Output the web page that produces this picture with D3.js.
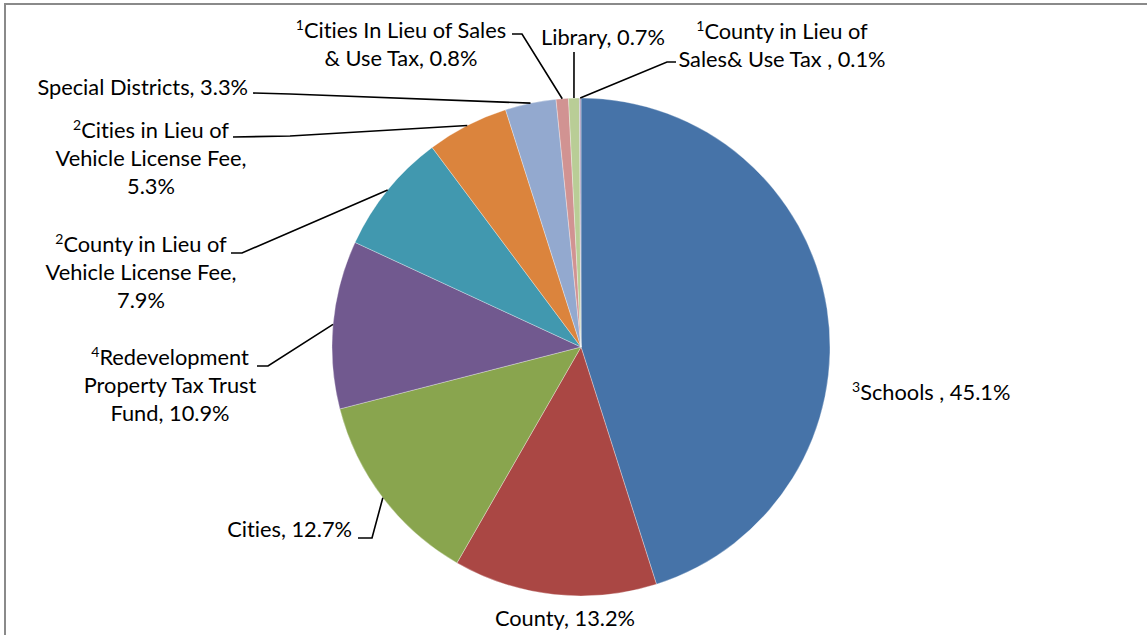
<!DOCTYPE html>
<html>
<head>
<meta charset="utf-8">
<script src="https://cdn.jsdelivr.net/npm/d3@7"></script>
<style>
  html, body { margin: 0; padding: 0; background: #fff; }
  svg { display: block; }
  text { font-family: Lato, "Open Sans", sans-serif; fill: #000; font-variant-ligatures: none; }
</style>
</head>
<body>
<script>
// property tax allocation shares, clockwise from 12 o'clock
const categories = [
  "Schools", "County", "Cities", "Redevelopment Property Tax Trust Fund",
  "County in Lieu of Vehicle License Fee", "Cities in Lieu of Vehicle License Fee",
  "Special Districts", "Cities In Lieu of Sales & Use Tax", "Library",
  "County in Lieu of Sales& Use Tax"
];
const shares = [45.1, 13.2, 12.7, 10.9, 7.9, 5.3, 3.3, 0.8, 0.7, 0.1];
const footnotes = ["3", "", "", "4", "2", "2", "", "1", "", "1"];
const colors = ["#4673A8", "#AA4744", "#89A54E", "#71598F", "#4198AF",
                "#DB843D", "#93A9CF", "#D19392", "#B9CD96", "#A99BBD"];

// how each label is wrapped; %v is replaced by the value
const labelLines = [
  ["Schools , %v"],
  ["County, %v"],
  ["Cities, %v"],
  ["Redevelopment", "Property Tax Trust", "Fund, %v"],
  ["County in Lieu of", "Vehicle License Fee,", "%v"],
  ["Cities in Lieu of", "Vehicle License Fee,", "%v"],
  ["Special Districts, %v"],
  ["Cities In Lieu of Sales", "& Use Tax, %v"],
  ["Library, %v"],
  ["County in Lieu of", "Sales& Use Tax , %v"]
];

// label placement (like Excel's hand dragged labels) and leader stubs
const labelPos = [
  { x: 852, y: 393, anchor: "start" },
  { x: 565, y: 619, anchor: "middle" },
  { x: 352, y: 530, anchor: "end", stub: [[358, 538], [372, 538]] },
  { x: 170, y: 358, anchor: "middle", stub: [[257, 366], [268, 366]] },
  { x: 141, y: 245, anchor: "middle", stub: [[231, 253], [242, 253]] },
  { x: 151, y: 131, anchor: "middle", stub: [[233, 137], [290, 136]] },
  { x: 248, y: 88,  anchor: "end", stub: [[253, 93], [290, 94]] },
  { x: 401, y: 31,  anchor: "middle", stub: [[512, 34], [522, 34]] },
  { x: 603, y: 38,  anchor: "middle", stub: [[574, 52], [574, 53]] },
  { x: 782, y: 32,  anchor: "middle", stub: [[676, 62], [667, 62]] }
];

const width = 1147, height = 635;
const cx = 581, cy = 347, radius = 249;
const lineGap = 28;

const svg = d3.select("body").append("svg")
  .attr("width", width)
  .attr("height", height);

// chart frame (only top and left edges are inside the picture)
svg.append("rect")
  .attr("x", 5).attr("y", 4)
  .attr("width", width + 20).attr("height", height + 20)
  .attr("fill", "none")
  .attr("stroke", "#8a8a8a")
  .attr("stroke-width", 2);

const data = categories.map((c, i) => ({
  name: c, value: shares[i], note: footnotes[i], color: colors[i],
  lines: labelLines[i], pos: labelPos[i]
}));

const pie = d3.pie().value(d => d.value).sort(null);
const arcs = pie(data);

const arc = d3.arc().innerRadius(0).outerRadius(radius);
const edgeArc = d3.arc().innerRadius(radius).outerRadius(radius);

const g = svg.append("g").attr("transform", `translate(${cx},${cy})`);

g.selectAll("path.slice")
  .data(arcs)
  .enter().append("path")
  .attr("class", "slice")
  .attr("d", arc)
  .attr("fill", d => d.data.color)
  .attr("stroke", "rgba(255,255,255,0.45)")
  .attr("stroke-width", 0.7);

// leader lines: stub near label, then to the middle of the slice's rim
const line = d3.line();
svg.selectAll("path.leader")
  .data(arcs.filter(d => d.data.pos.stub))
  .enter().append("path")
  .attr("class", "leader")
  .attr("fill", "none")
  .attr("stroke", "#000")
  .attr("stroke-width", 1.6)
  .attr("d", d => {
    const c = edgeArc.centroid(d);
    const pts = d.data.pos.stub.concat([[cx + c[0], cy + c[1]]]);
    return line(pts);
  });

const fmt = v => d3.format(".1f")(v) + "%";

const labels = svg.selectAll("text.label")
  .data(data)
  .enter().append("text")
  .attr("class", "label")
  .attr("text-anchor", d => d.pos.anchor)
  .style("font-size", "21.8px");

labels.each(function(d) {
  const t = d3.select(this);
  d.lines.forEach((ln, i) => {
    const y = d.pos.y + i * lineGap + 7;
    const txt = ln.replace("%v", fmt(d.value));
    if (i === 0 && d.note) {
      // footnote mark and text in one chunk so centring covers both
      t.append("tspan")
        .attr("x", d.pos.x).attr("y", y - 8)
        .style("font-size", "14px")
        .text(d.note);
      t.append("tspan")
        .attr("dy", 8)
        .text(txt);
    } else {
      t.append("tspan")
        .attr("x", d.pos.x).attr("y", y)
        .text(txt);
    }
  });
});
</script>
</body>
</html>
